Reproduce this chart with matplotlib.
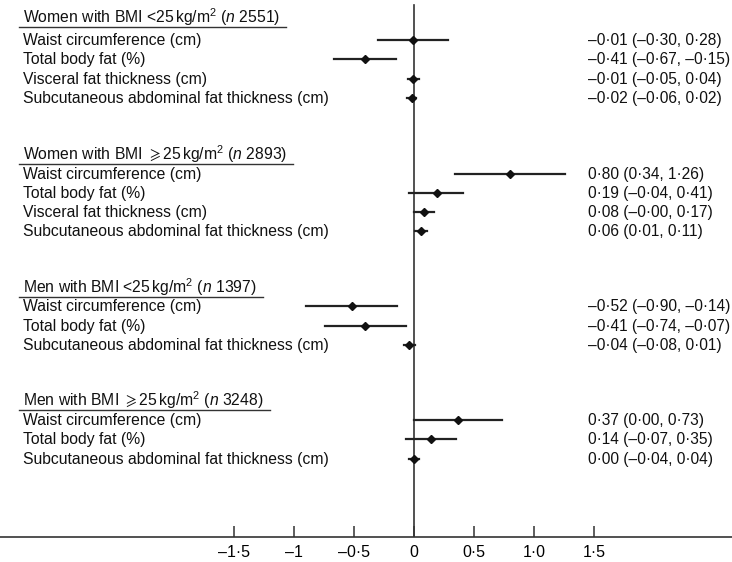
import matplotlib
matplotlib.use("Agg")
import matplotlib.pyplot as plt
import matplotlib.transforms as mtransforms

plt.rcParams['font.family'] = ['Liberation Sans', 'DejaVu Sans']
plt.rcParams['mathtext.fontset'] = 'custom'
plt.rcParams['mathtext.rm'] = 'Liberation Sans'
plt.rcParams['mathtext.it'] = 'Liberation Sans:italic'
plt.rcParams['mathtext.fallback'] = 'stix'

# ---- data ----
group_titles = [
    r"Women with BMI <25$\,$kg/m$^2$ ($n$ 2551)",
    r"Women with BMI ${\geqslant}$25$\,$kg/m$^2$ ($n$ 2893)",
    r"Men with BMI <25$\,$kg/m$^2$ ($n$ 1397)",
    r"Men with BMI ${\geqslant}$25$\,$kg/m$^2$ ($n$ 3248)",
]
outcomes_women = ["Waist circumference (cm)", "Total body fat (%)",
                  "Visceral fat thickness (cm)",
                  "Subcutaneous abdominal fat thickness (cm)"]
outcomes_men = ["Waist circumference (cm)", "Total body fat (%)",
                "Subcutaneous abdominal fat thickness (cm)"]
group_outcomes = [outcomes_women, outcomes_women, outcomes_men, outcomes_men]

est_w_lo = [-0.01, -0.41, -0.01, -0.02]
lo_w_lo = [-0.30, -0.67, -0.05, -0.06]
hi_w_lo = [0.28, -0.15, 0.04, 0.02]

est_w_hi = [0.80, 0.19, 0.08, 0.06]
lo_w_hi = [0.34, -0.04, -0.00, 0.01]
hi_w_hi = [1.26, 0.41, 0.17, 0.11]

est_m_lo = [-0.52, -0.41, -0.04]
lo_m_lo = [-0.90, -0.74, -0.08]
hi_m_lo = [-0.14, -0.07, 0.01]

est_m_hi = [0.37, 0.14, 0.00]
lo_m_hi = [0.00, -0.07, -0.04]
hi_m_hi = [0.73, 0.35, 0.04]

estimates = [est_w_lo, est_w_hi, est_m_lo, est_m_hi]
lowers = [lo_w_lo, lo_w_hi, lo_m_lo, lo_m_hi]
uppers = [hi_w_lo, hi_w_hi, hi_m_lo, hi_m_hi]

tick_values = [-1.5, -1, -0.5, 0, 0.5, 1.0, 1.5]
tick_labels = ["–1·5", "–1", "–0·5", "0", "0·5", "1·0", "1·5"]

# ---- layout (pixel-based vertical positions) ----
header_baseline = [23, 160, 293, 406]
first_row_y = [40, 174, 306, 420]
row_steps = [19.3, 19.0, 19.5, 19.3]

W, H = 732, 562
fig = plt.figure(figsize=(W / 100, H / 100), dpi=100)
axis_px = 537
ax = fig.add_axes([0, (H - axis_px) / H, 1, axis_px / H])
x0_px = 414
ppu = 120.0
ax.set_xlim(-x0_px / ppu, (W - x0_px) / ppu)
ax.set_ylim(axis_px, 0)

for s in ['top', 'left', 'right']:
    ax.spines[s].set_visible(False)
ax.spines['bottom'].set_linewidth(1.2)
ax.spines['bottom'].set_color('#333333')
ax.set_yticks([])
ax.set_xticks(tick_values)
ax.set_xticklabels(tick_labels)
ax.tick_params(axis='x', direction='in', length=8, width=1.1, color='#333333',
               labelsize=11.5, pad=6)

ax.plot([0, 0], [5, axis_px], color='#333333', lw=1.2, zorder=1)

fs = 11.3
label_x = 23 / W
right_x = (588 - x0_px) / ppu
blend = mtransforms.blended_transform_factory(ax.transAxes, ax.transData)

def fmt(v):
    return f"{v:.2f}".replace("-", "–").replace(".", "·")

fig.canvas.draw()
renderer = fig.canvas.get_renderer()
inv = ax.transAxes.inverted()
for g in range(4):
    t = ax.text(label_x, header_baseline[g], group_titles[g], transform=blend,
                fontsize=fs, va='baseline', ha='left', color='#111111')
    bb = t.get_window_extent(renderer=renderer)
    (xa, _), (xb, _) = inv.transform([(bb.x0, 0), (bb.x1, 0)])
    uy = header_baseline[g] + 3.5
    ax.plot([xa - 4 / W, xb + 6 / W], [uy, uy], transform=blend,
            color='#333333', lw=1.0, clip_on=False)
    for i, name in enumerate(group_outcomes[g]):
        y = first_row_y[g] + row_steps[g] * i
        ax.text(label_x, y + 0.5, name, transform=blend,
                fontsize=fs, va='center', ha='left', color='#111111')
        e, lo, hi = estimates[g][i], lowers[g][i], uppers[g][i]
        ax.plot([lo, hi], [y, y], color='#222222', lw=1.6, zorder=2)
        ax.plot([e], [y], marker='D', ms=4.5, color='#111111', zorder=3)
        ax.text(right_x, y + 0.5, f"{fmt(e)} ({fmt(lo)}, {fmt(hi)})",
                fontsize=11.2, va='center', ha='left', color='#111111')

fig.savefig("out.png", dpi=100, facecolor='white')
